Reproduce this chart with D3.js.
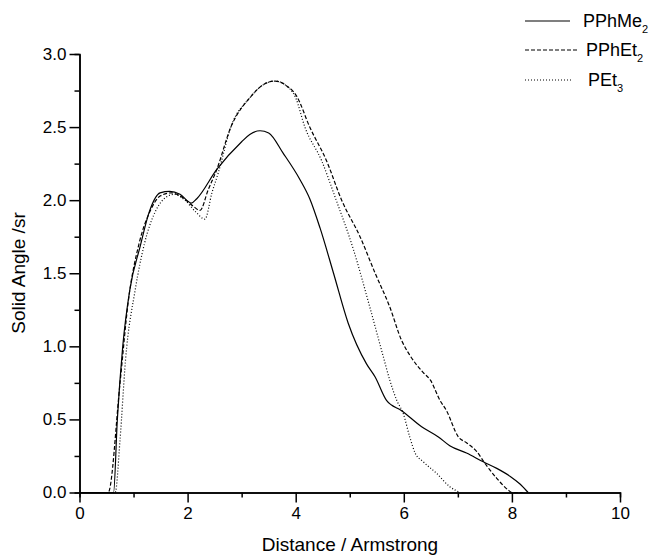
<!DOCTYPE html>
<html lang="en">

<head>
  <meta charset="UTF-8">
  <title>Solid angle vs distance</title>
  <style>
    body { margin: 0; background: #fff; }
    text { font-family: "Liberation Sans", Arial, Helvetica, sans-serif; fill: #000; }
  </style>
</head>

<body>
  <svg id="svg" width="658" height="558"></svg>

  <script src="https://d3js.org/d3.v7.min.js"></script>
  <script>
    // PPhMe2 (solid)
    const meX = [0, 0.63, 0.7, 0.8, 0.93, 1.12, 1.3, 1.49, 1.67, 1.86, 2.07, 2.17, 2.54, 3.0, 3.15, 3.34, 3.5, 3.77, 4.08, 4.26, 4.45, 4.7, 4.97, 5.31, 5.47, 5.68, 5.96, 6.33, 6.64, 6.85, 7.16, 7.47, 7.72, 7.97, 8.15, 8.3]
    const meY = [0, 0, 0.5, 1.0, 1.385, 1.68, 1.93, 2.05, 2.06, 2.04, 1.98, 2.01, 2.21, 2.40, 2.45, 2.475, 2.46, 2.32, 2.14, 2.01, 1.81, 1.5, 1.16, 0.88, 0.79, 0.63, 0.56, 0.45, 0.38, 0.32, 0.27, 0.21, 0.165, 0.11, 0.058, 0]

    // PPhEt2 (dashed)
    const etX = [0, 0.53, 0.75, 0.9, 1.1, 1.3, 1.5, 1.7, 1.9, 2.1, 2.23, 2.38, 2.54, 2.8, 3.15, 3.4, 3.62, 3.8, 4.02, 4.26, 4.57, 4.85, 5.19, 5.47, 5.74, 5.96, 6.11, 6.36, 6.49, 6.67, 6.79, 7.01, 7.16, 7.35, 7.5, 7.72, 7.93, 8.0, 8.2]
    const etY = [0, 0, 0.75, 1.3, 1.7, 1.92, 2.03, 2.05, 2.02, 1.96, 1.93, 2.07, 2.21, 2.5, 2.70, 2.79, 2.815, 2.79, 2.71, 2.50, 2.27, 2.0, 1.75, 1.50, 1.27, 1.04, 0.94, 0.82, 0.77, 0.63, 0.56, 0.38, 0.34, 0.28, 0.2, 0.097, 0.017, 0, 0]

    // PEt3 (dotted)
    const pet3X = [0, 0.66, 0.75, 0.85, 1.03, 1.2, 1.4, 1.6, 1.75, 1.95, 2.15, 2.32, 2.45, 2.57, 2.8, 3.15, 3.4, 3.62, 3.8, 4.0, 4.17, 4.48, 4.73, 5.07, 5.37, 5.62, 5.74, 5.87, 5.99, 6.11, 6.21, 6.36, 6.61, 6.85, 7.04]
    const pet3Y = [0, 0, 0.36, 0.9, 1.385, 1.7, 1.92, 2.02, 2.04, 2.0, 1.92, 1.87, 2.05, 2.19, 2.5, 2.70, 2.79, 2.815, 2.79, 2.70, 2.50, 2.27, 2.02, 1.66, 1.27, 0.93, 0.77, 0.63, 0.54, 0.38, 0.27, 0.21, 0.13, 0.04, 0]

    const seriesNames = ['PPhMe', 'PPhEt', 'PEt']
    const seriesSubs = ['2', '2', '3']
    const xMajorTicks = [0, 2, 4, 6, 8, 10]
    const yMajorTicks = [0, 0.5, 1.0, 1.5, 2.0, 2.5, 3.0]

    const series = [
      { name: seriesNames[0], sub: seriesSubs[0], xs: meX, ys: meY, dash: null },
      { name: seriesNames[1], sub: seriesSubs[1], xs: etX, ys: etY, dash: '4,2' },
      { name: seriesNames[2], sub: seriesSubs[2], xs: pet3X, ys: pet3Y, dash: '1,2' }
    ]

    const svg = d3.select('#svg')

    const xScale = d3.scaleLinear().domain([0, 10]).range([79.5, 620])
    const yScale = d3.scaleLinear().domain([0, 3]).range([492.5, 54])

    // minor ticks first, then majors with labels
    svg.append('g')
      .attr('transform', 'translate(0,492.5)')
      .call(d3.axisBottom(xScale).tickValues(d3.range(1, 10, 2)).tickSize(5).tickFormat(''))
    svg.append('g')
      .attr('class', 'xaxis')
      .attr('transform', 'translate(0,492.5)')
      .call(d3.axisBottom(xScale).tickValues(xMajorTicks).tickSize(10).tickSizeOuter(0).tickPadding(4))

    svg.append('g')
      .attr('transform', 'translate(79.5,0)')
      .call(d3.axisLeft(yScale).tickValues(d3.range(0.25, 3, 0.5)).tickSize(5).tickFormat(''))
    svg.append('g')
      .attr('class', 'yaxis')
      .attr('transform', 'translate(79.5,0)')
      .call(d3.axisLeft(yScale).tickValues(yMajorTicks).tickSize(10).tickSizeOuter(0).tickPadding(3).tickFormat(d3.format('.1f')))

    svg.selectAll('.domain, .tick line')
      .attr('stroke', '#000')
      .attr('stroke-width', 1.5)
    svg.selectAll('.tick text')
      .style('font-size', '17px')

    const line = d3.line()
      .x(d => xScale(d[0]))
      .y(d => yScale(d[1]))
      .curve(d3.curveMonotoneX)

    svg.selectAll('path.series')
      .data(series)
      .enter()
      .append('path')
      .attr('class', 'series')
      .attr('d', s => line(s.xs.map((x, i) => [x, s.ys[i]])))
      .attr('fill', 'none')
      .attr('stroke', '#000')
      .attr('stroke-width', 1.2)
      .attr('stroke-dasharray', s => s.dash)

    // axis titles
    svg.append('text')
      .attr('x', 350)
      .attr('y', 551)
      .attr('text-anchor', 'middle')
      .style('font-size', '19px')
      .text('Distance / Armstrong')

    svg.append('text')
      .attr('transform', 'translate(25,273) rotate(-90)')
      .attr('text-anchor', 'middle')
      .style('font-size', '19px')
      .text('Solid Angle /sr')

    // legend
    const legendY = [21, 50, 80]
    const legendLen = [45, 53, 47]
    const legendTextX = [583, 586, 588]
    const legend = svg.selectAll('g.legend')
      .data(series)
      .enter()
      .append('g')
      .attr('class', 'legend')

    legend.append('line')
      .attr('x1', 525)
      .attr('x2', (d, i) => 525 + legendLen[i])
      .attr('y1', (d, i) => legendY[i])
      .attr('y2', (d, i) => legendY[i])
      .attr('stroke', '#000')
      .attr('stroke-width', 1.2)
      .attr('stroke-dasharray', d => d.dash)

    const lt = legend.append('text')
      .attr('x', (d, i) => legendTextX[i])
      .attr('y', (d, i) => legendY[i] + 6)
      .style('font-size', '18px')
    lt.append('tspan').text(d => d.name)
    lt.append('tspan')
      .attr('dy', 6)
      .style('font-size', '11px')
      .text(d => d.sub)
  </script>
</body>

</html>
